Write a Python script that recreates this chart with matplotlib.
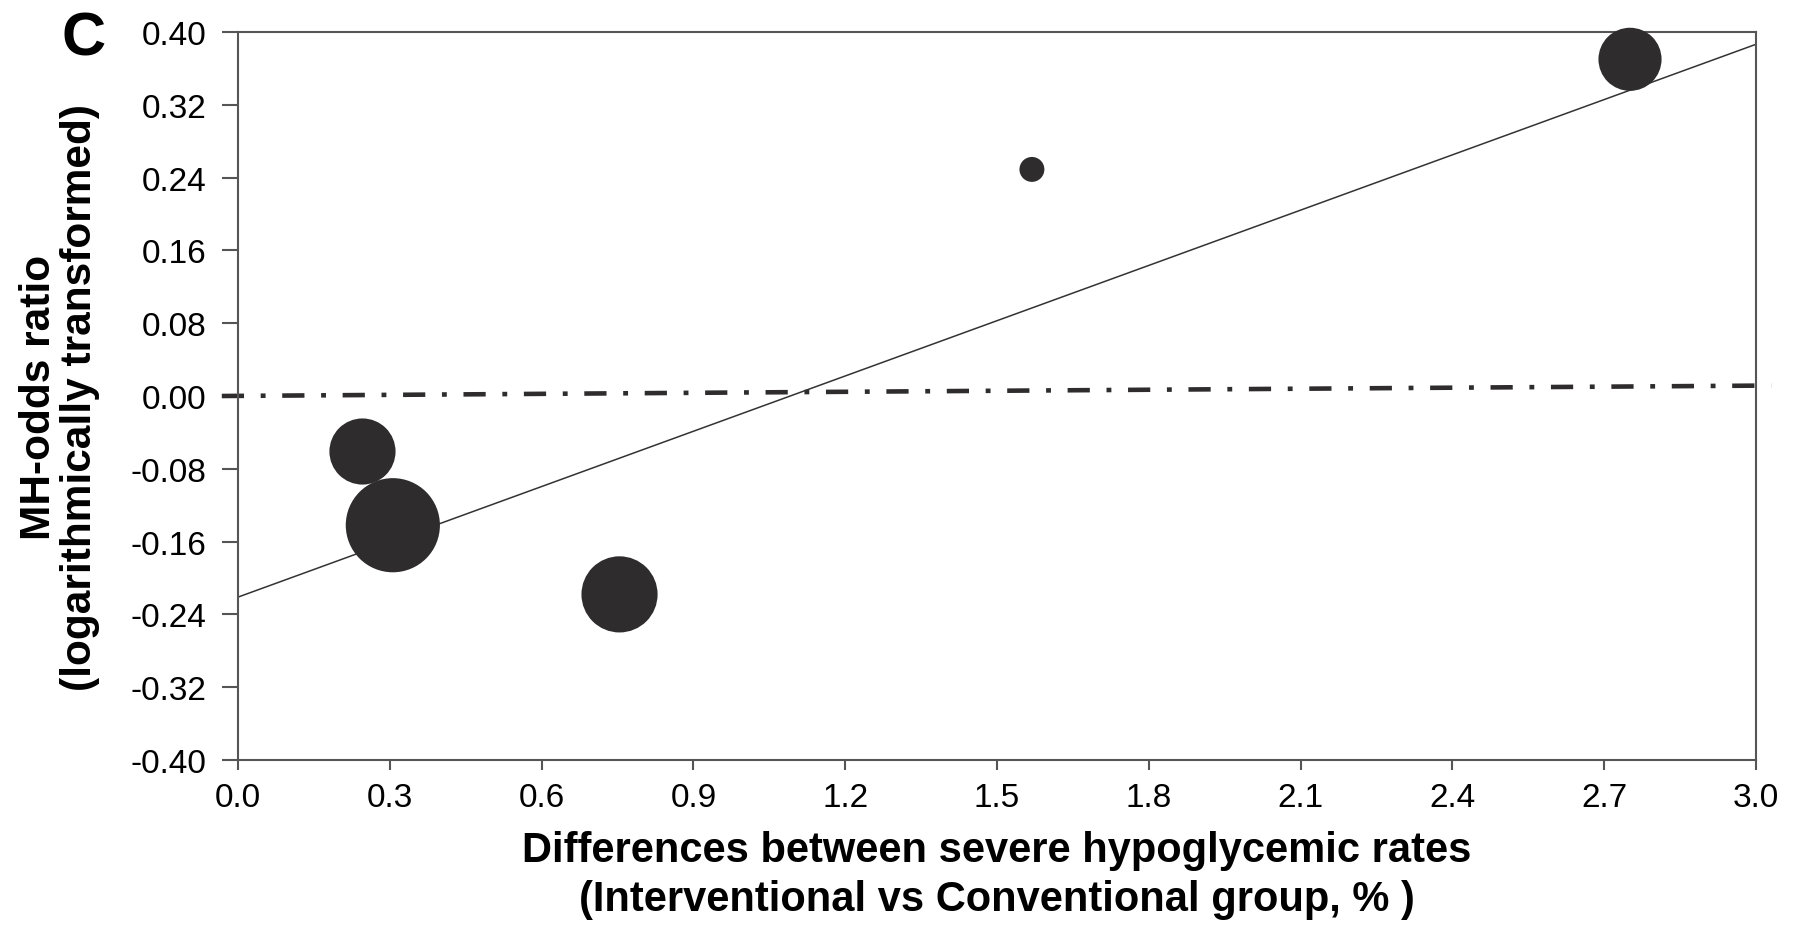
import matplotlib
matplotlib.use("Agg")
import matplotlib.pyplot as plt
import numpy as np

plt.rcParams['font.family'] = ['Liberation Sans', 'DejaVu Sans']
plt.rcParams['lines.scale_dashes'] = False

# --- study data ---
rate_diff = [0.246, 0.306, 0.754, 1.569, 2.751]       # % difference in severe hypoglycemia
log_mh_or = [-0.061, -0.142, -0.218, 0.249, 0.370]   # log MH odds ratio
study_weight = [4.36, 8.84, 5.78, 0.62, 3.97]         # relative study weight (bubble area)

# meta-regression fit
fit_intercept = -0.221
fit_slope = 0.2025
fit_x = [0.0, 3.0]

# reference (no effect) line
ref_x = [-0.032, 3.03]
ref_y = [0.0, 0.0115]

x_ticks = [0.0, 0.3, 0.6, 0.9, 1.2, 1.5, 1.8, 2.1, 2.4, 2.7, 3.0]
y_ticks = [-0.40, -0.32, -0.24, -0.16, -0.08, 0.00, 0.08, 0.16, 0.24, 0.32, 0.40]

dark = '#2e2c2d'
spine_col = '#555555'

fig = plt.figure(figsize=(17.96, 9.28), dpi=100)
ax = fig.add_axes([238 / 1796, 1 - 761 / 928, (1756 - 238) / 1796, (761 - 33) / 928])

# bubbles
ax.scatter(rate_diff, log_mh_or, s=np.array(study_weight) * 520, color=dark,
           edgecolors='none', zorder=3, clip_on=False)

# regression line
fx = np.array(fit_x)
ax.plot(fx, fit_intercept + fit_slope * fx, color='#333333', lw=1.1, zorder=2)

# dash-dot reference line
ax.plot(ref_x, ref_y, color=dark, lw=3.3, dashes=(16, 12, 3.5, 12),
        dash_capstyle='butt', clip_on=False, zorder=2)

ax.set_xlim(0, 3.0)
ax.set_ylim(-0.40, 0.40)
ax.set_xticks(x_ticks)
ax.set_xticklabels([f"{v:.1f}" for v in x_ticks])
ax.set_yticks(y_ticks)
ax.set_yticklabels([f"{v:.2f}" for v in y_ticks])

for s in ax.spines.values():
    s.set_color(spine_col)
    s.set_linewidth(1.5)
ax.tick_params(axis='both', direction='out', width=1.5, color=spine_col,
               labelsize=24, labelcolor='black')
ax.tick_params(axis='y', length=11.5, pad=11)
ax.tick_params(axis='x', length=7, pad=9)

ax.set_xlabel("Differences between severe hypoglycemic rates\n"
              "(Interventional vs Conventional group, % )",
              fontsize=30, fontweight='bold', linespacing=1.3, labelpad=12)
ax.set_ylabel("MH-odds ratio\n(logarithmically transformed)",
              fontsize=30.5, fontweight='bold', linespacing=1.04, labelpad=22)

fig.text(62 / 1796, 1 - 55 / 928, "C", fontsize=44, fontweight='bold',
         ha='left', va='baseline')

fig.savefig("out.png", dpi=100)
